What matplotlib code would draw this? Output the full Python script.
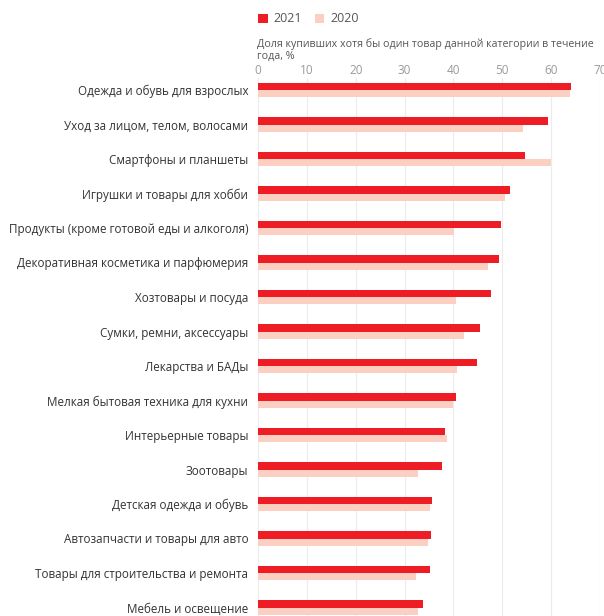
import matplotlib
matplotlib.use("Agg")
import matplotlib.pyplot as plt
import numpy as np

plt.rcParams["font.family"] = ["Open Sans", "DejaVu Sans"]

categories = [
    "Одежда и обувь для взрослых",
    "Уход за лицом, телом, волосами",
    "Смартфоны и планшеты",
    "Игрушки и товары для хобби",
    "Продукты (кроме готовой еды и алкоголя)",
    "Декоративная косметика и парфюмерия",
    "Хозтовары и посуда",
    "Сумки, ремни, аксессуары",
    "Лекарства и БАДы",
    "Мелкая бытовая техника для кухни",
    "Интерьерные товары",
    "Зоотовары",
    "Детская одежда и обувь",
    "Автозапчасти и товары для авто",
    "Товары для строительства и ремонта",
    "Мебель и освещение",
]
share_2021 = [64.1, 59.3, 54.7, 51.5, 49.7, 49.3, 47.7, 45.5, 44.8, 40.6, 38.3, 37.6, 35.6, 35.5, 35.3, 33.8]
share_2020 = [63.9, 54.2, 60.0, 50.6, 40.2, 47.0, 40.6, 42.2, 40.8, 39.9, 38.6, 32.7, 35.2, 34.7, 32.3, 32.8]
xticks = [0, 10, 20, 30, 40, 50, 60, 70]

RED = "#ee1c25"
PINK = "#fbd0c2"

# plot area: 34.5 px per category row, first row boundary at 90 px from the top
top_px = 78
fig = plt.figure(figsize=(6.04, 6.16), dpi=100)
ax = fig.add_axes([258 / 604, 0, 342 / 604, (616 - top_px) / 616])

y = np.arange(len(categories))
h = 0.21
ax.barh(y - h / 2, share_2021, h, color=RED, label="2021", zorder=3)
ax.barh(y + h / 2, share_2020, h, color=PINK, label="2020", zorder=2)

ax.set_xlim(0, 70)
ax.set_ylim((616 - 90) / 34.5, -(90 - top_px) / 34.5)
ax.set_xticks(xticks)
ax.set_yticks(y)
ax.set_yticklabels(categories, fontsize=8.4, color="#333333")
ax.xaxis.tick_top()
ax.tick_params(axis="x", length=0, pad=1, labelsize=8.5, labelcolor="#9a9a9a")
ax.tick_params(axis="y", length=0, pad=7)
ax.grid(axis="x", color="#ececec", linewidth=0.8, zorder=0)
for s in ax.spines.values():
    s.set_visible(False)

fig.text(257 / 604, 1 - 50 / 616,
         "Доля купивших хотя бы один товар данной категории в течение\nгода, %",
         fontsize=7.7, color="#555555", ha="left", va="center", linespacing=1.05)

fig.legend(loc="center left", bbox_to_anchor=(247 / 604, 1 - 19 / 616), ncol=2,
           frameon=False, fontsize=9, handlelength=0.75, handleheight=0.75,
           handletextpad=0.5, columnspacing=1.0, labelcolor="#555555")

fig.savefig("out.png", dpi=100)
